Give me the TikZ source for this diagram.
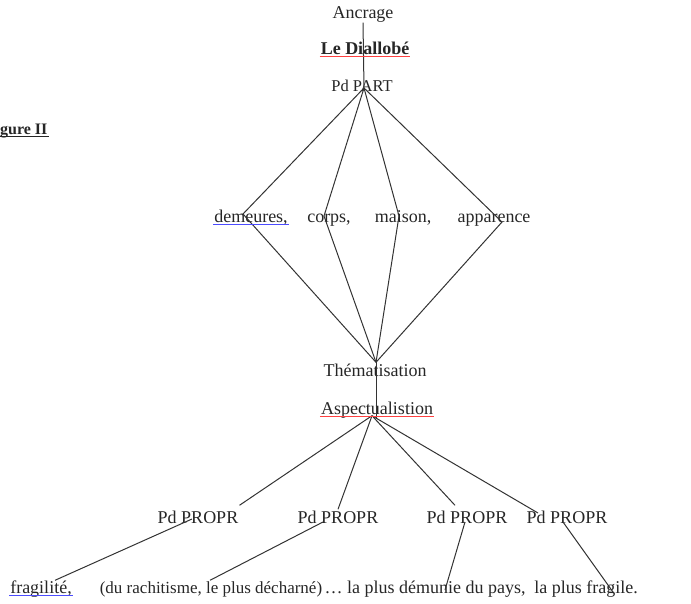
\documentclass[tikz,border=0pt]{standalone}
\usepackage{fontspec}
\setmainfont{Liberation Serif}
\tikzset{
  mot/.style={inner sep=1pt, text height=14pt, text depth=3pt, text=black!85,
    font=\fontsize{18}{21}\selectfont},
  trait/.style={draw=black!80, line width=1pt},
  souligne/.style={line width=0.7pt}
}
\begin{document}
\begin{tikzpicture}[x=1pt,y=-1pt]
    \useasboundingbox (0,0) rectangle (691,604);
    \node[mot] (ancrage) at (363,13) {Ancrage};
    \node[mot, font=\fontsize{18}{21}\selectfont\bfseries] (diallobe) at (365,49) {Le Diallobé};
    \node[mot, font=\fontsize{16.5}{20}\selectfont] (part) at (362,86) {Pd PART};
    \node[mot, anchor=west, font=\fontsize{16}{19}\selectfont\bfseries] (figure) at (-1,129) {gure II};
    \node[mot] (dem) at (251,217) {demeures,};
    \node[mot] (corps) at (329,217) {corps,};
    \node[mot] (maison) at (403,217) {maison,};
    \node[mot] (appar) at (494,217) {apparence};
    \node[mot] (them) at (375,371) {Thématisation};
    \node[mot] (aspect) at (377,409) {Aspectualistion};
    \foreach \i/\x in {1/198,2/338,3/467,4/567}
    \node[mot] (p\i) at (\x,518) {Pd PROPR};
    \node[mot] (frag) at (41,588) {fragilité,};
    \node[mot, font=\fontsize{17}{20}\selectfont] (rach) at (211,588) {(du rachitisme, le plus décharné)};
    \node[mot] (demunie) at (425,588) {…\ la plus démunie du pays,};
    \node[mot] (fragile) at (586,588) {la plus fragile.};
    \coordinate (sommet) at ([xshift=2pt,yshift=-2pt]part.center);
    \coordinate (noeud) at ([xshift=1pt,yshift=-1pt]them.north);
    \coordinate (pied) at ([xshift=-5pt,yshift=3pt]aspect.south);
    \draw[trait] (ancrage.south) -- (sommet);
    \foreach \m/\dx/\dy in {dem/-8/3,corps/-5/1,maison/-4/1,appar/8/-5}
    \draw[trait] (sommet) -- ([xshift=\dx pt,yshift=\dy pt]\m.center) -- (noeud);
    \draw[trait] (noeud) -- ([xshift=-1pt]aspect.south);
    \draw[trait] (pied) -- ([yshift=3pt]p1.north east);
    \draw[trait] (pied) -- ([yshift=-1pt]p2.north);
    \draw[trait] (pied) -- ([xshift=-12pt,yshift=3pt]p3.north);
    \draw[trait] (pied) -- ([xshift=-29pt,yshift=5pt]p4.center);
    \draw[trait] ([xshift=-6pt,yshift=-1pt]p1.center) -- ([xshift=14pt,yshift=-2pt]frag.north);
    \draw[trait] ([xshift=-15pt,yshift=-4pt]p2.center) -- ([xshift=-1pt,yshift=-2pt]rach.north);
    \draw[trait] ([xshift=-2pt,yshift=-4pt]p3.center) -- ([xshift=20pt,yshift=-2pt]demunie.center);
    \draw[trait] ([xshift=-4pt,yshift=-4pt]p4.center) -- ([xshift=27pt,yshift=-4pt]fragile.center);
    \draw[souligne, red!75] ([yshift=2pt]diallobe.south west) -- ([yshift=2pt]diallobe.south east);
    \draw[souligne, red!75] ([yshift=2pt]aspect.south west) -- ([yshift=2pt]aspect.south east);
    \draw[souligne, blue!70] ([yshift=2pt]dem.south west) -- ([yshift=2pt]dem.south east);
    \draw[souligne, blue!70] ([yshift=2pt]frag.south west) -- ([yshift=2pt]frag.south east);
    \draw[line width=1pt, black!85] ([yshift=2pt]figure.south west) -- ([yshift=2pt]figure.south east);
\end{tikzpicture}
\end{document}
